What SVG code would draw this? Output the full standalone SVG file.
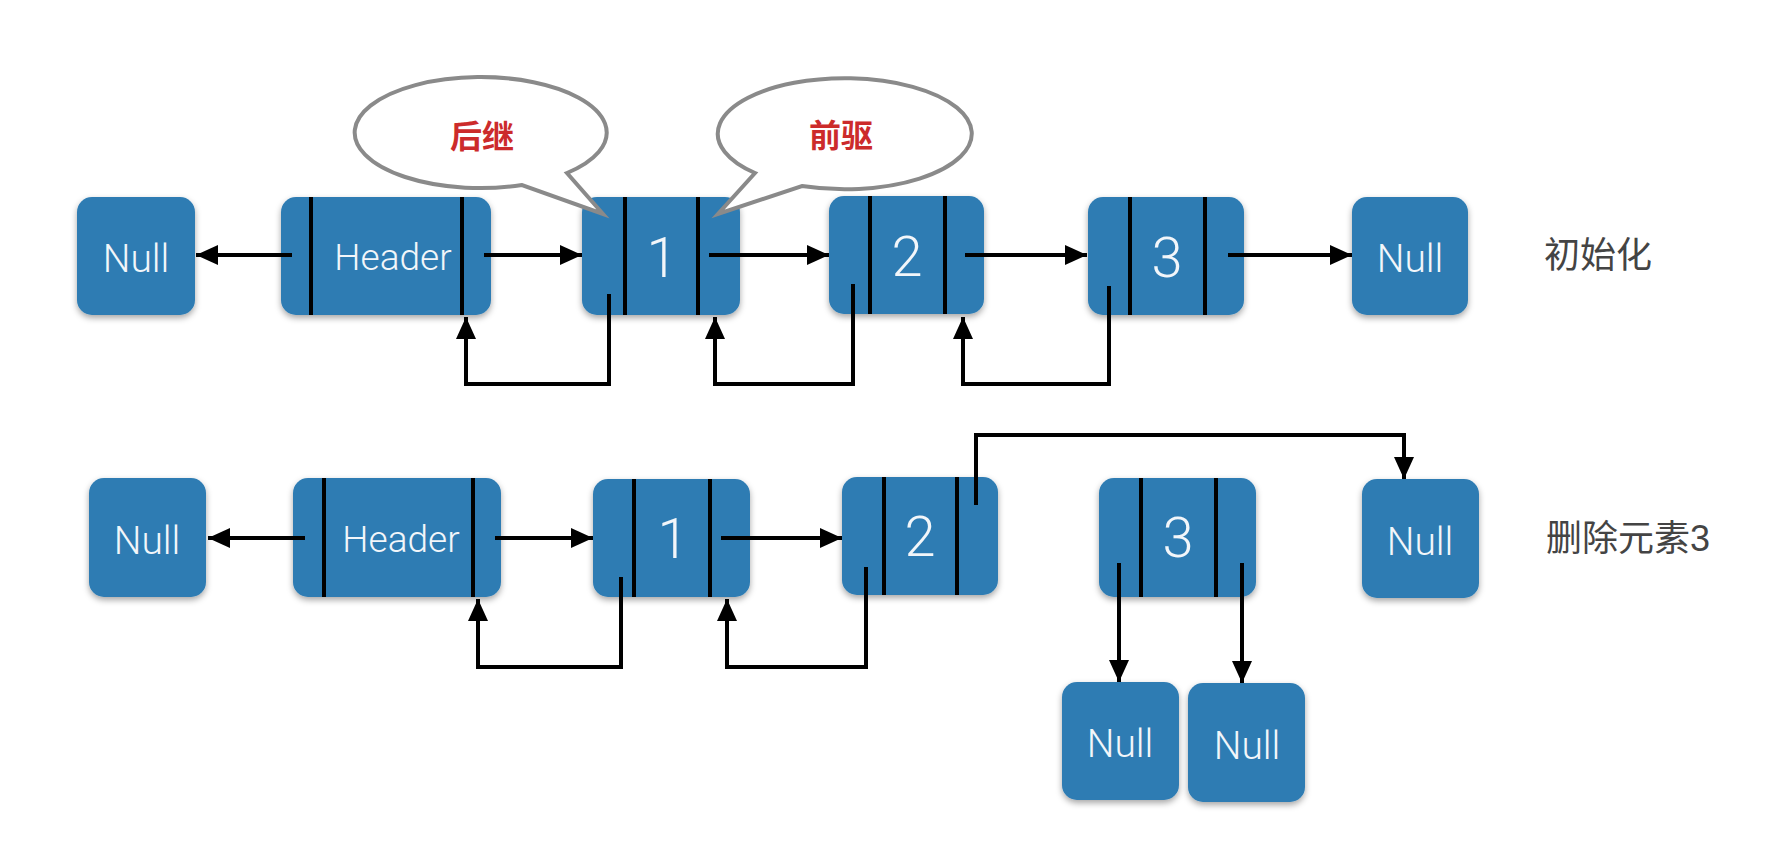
<svg xmlns="http://www.w3.org/2000/svg" width="1778" height="856" viewBox="0 0 1778 856">
<style>
.box{fill:#2e7cb3;filter:url(#sh)}
.div{stroke:#000;stroke-width:4;fill:none}
.lbl{fill:#f2f6fa;font-family:Roboto,"Liberation Sans",Arial,sans-serif;font-weight:300;text-anchor:middle}
.nul{font-size:39px}
.hdr{font-size:37px}
.num{font-size:56px}
.con{stroke:#000;stroke-width:4;fill:none;stroke-linejoin:miter}
.arr{marker-end:url(#ah)}
.bub{fill:#fff;stroke:#8a8a8a;stroke-width:4;stroke-linejoin:miter}
.btxt{fill:#cc2b2b;font-family:"Noto Sans CJK SC",sans-serif;font-size:32px;font-weight:bold;text-anchor:middle}
.side{fill:#444;font-family:"Liberation Sans","Noto Sans CJK SC",sans-serif;font-size:36px}
</style>
<defs>
<filter id="sh" x="-20%" y="-20%" width="140%" height="150%">
<feDropShadow dx="0" dy="3" stdDeviation="3" flood-color="#000" flood-opacity="0.35"/>
</filter>
<marker id="ah" viewBox="0 0 22 20" refX="22" refY="10" markerWidth="22" markerHeight="20" markerUnits="userSpaceOnUse" orient="auto">
<path d="M0,0 L22,10 L0,20 Z" fill="#000"/>
</marker>
</defs>
<rect width="1778" height="856" fill="#fff"/>

<!-- Row 1 nodes -->
<g id="r1-null-left">
<rect class="box" x="77" y="197" width="118" height="118" rx="15"/>
<text class="lbl nul" x="136" y="272">Null</text>
</g>
<g id="r1-header">
<rect class="box" x="281" y="197" width="210" height="118" rx="15"/>
<line class="div" x1="311" y1="197" x2="311" y2="315"/>
<line class="div" x1="462" y1="197" x2="462" y2="315"/>
<text class="lbl hdr" x="393" y="270">Header</text>
</g>
<g id="r1-node1">
<rect class="box" x="582" y="197" width="158" height="118" rx="15"/>
<line class="div" x1="625" y1="197" x2="625" y2="315"/>
<line class="div" x1="698" y1="197" x2="698" y2="315"/>
<text class="lbl num" x="662" y="277">1</text>
</g>
<g id="r1-node2">
<rect class="box" x="829" y="196" width="155" height="118" rx="15"/>
<line class="div" x1="870" y1="196" x2="870" y2="314"/>
<line class="div" x1="945" y1="196" x2="945" y2="314"/>
<text class="lbl num" x="907" y="276">2</text>
</g>
<g id="r1-node3">
<rect class="box" x="1088" y="197" width="156" height="118" rx="15"/>
<line class="div" x1="1130" y1="197" x2="1130" y2="315"/>
<line class="div" x1="1205" y1="197" x2="1205" y2="315"/>
<text class="lbl num" x="1167" y="277">3</text>
</g>
<g id="r1-null-right">
<rect class="box" x="1352" y="197" width="116" height="118" rx="15"/>
<text class="lbl nul" x="1410" y="272">Null</text>
</g>
<g id="r1-caption">
<text class="side" x="1544" y="268">初始化</text>
</g>

<!-- Callouts -->
<g id="callout-next">
<path class="bub" d="M522,185 A126,55.5 0 1 1 567,173 L603,214 Z"/>
<text class="btxt" x="482" y="148">后继</text>
</g>
<g id="callout-prev">
<path class="bub" d="M755,173 A127,55.5 0 1 1 802,186 L718,214 Z"/>
<text class="btxt" x="841" y="147">前驱</text>
</g>

<!-- Row 2 nodes -->
<g id="r2-null-left">
<rect class="box" x="89" y="478" width="117" height="119" rx="15"/>
<text class="lbl nul" x="147" y="554">Null</text>
</g>
<g id="r2-header">
<rect class="box" x="293" y="478" width="208" height="119" rx="15"/>
<line class="div" x1="324" y1="478" x2="324" y2="597"/>
<line class="div" x1="473" y1="478" x2="473" y2="597"/>
<text class="lbl hdr" x="401" y="552">Header</text>
</g>
<g id="r2-node1">
<rect class="box" x="593" y="479" width="157" height="118" rx="15"/>
<line class="div" x1="634" y1="479" x2="634" y2="597"/>
<line class="div" x1="710" y1="479" x2="710" y2="597"/>
<text class="lbl num" x="673" y="558">1</text>
</g>
<g id="r2-node2">
<rect class="box" x="842" y="477" width="156" height="118" rx="15"/>
<line class="div" x1="884" y1="477" x2="884" y2="595"/>
<line class="div" x1="957" y1="477" x2="957" y2="595"/>
<text class="lbl num" x="920" y="556">2</text>
</g>
<g id="r2-node3">
<rect class="box" x="1099" y="478" width="157" height="119" rx="15"/>
<line class="div" x1="1141" y1="478" x2="1141" y2="597"/>
<line class="div" x1="1216" y1="478" x2="1216" y2="597"/>
<text class="lbl num" x="1178" y="557">3</text>
</g>
<g id="r2-null-right">
<rect class="box" x="1362" y="479" width="117" height="119" rx="15"/>
<text class="lbl nul" x="1420" y="555">Null</text>
</g>
<g id="r2-null-bottom-left">
<rect class="box" x="1062" y="682" width="117" height="118" rx="15"/>
<text class="lbl nul" x="1120" y="757">Null</text>
</g>
<g id="r2-null-bottom-right">
<rect class="box" x="1188" y="683" width="117" height="119" rx="15"/>
<text class="lbl nul" x="1247" y="759">Null</text>
</g>
<g id="r2-caption">
<text class="side" x="1546" y="551">删除元素3</text>
</g>

<!-- Connectors -->
<g id="connectors">
<path class="con arr" d="M292,255 L196,255"/>
<path class="con arr" d="M484,255 L582,255"/>
<path class="con arr" d="M709,255 L829,255"/>
<path class="con arr" d="M965,255 L1087,255"/>
<path class="con arr" d="M1228,255 L1352,255"/>
<path class="con arr" d="M609,294 V384 H466 V317"/>
<path class="con arr" d="M853,284 V384 H715 V317"/>
<path class="con arr" d="M1109,286 V384 H963 V317"/>

<path class="con arr" d="M305,538 L208,538"/>
<path class="con arr" d="M495,538 L593,538"/>
<path class="con arr" d="M721,538 L842,538"/>
<path class="con arr" d="M621,577 V667 H478 V599"/>
<path class="con arr" d="M866,567 V667 H727 V599"/>
<path class="con arr" d="M976,505 V435 H1404 V479"/>
<path class="con arr" d="M1119,563 V682"/>
<path class="con arr" d="M1242,563 V683"/>
</g>
</svg>
